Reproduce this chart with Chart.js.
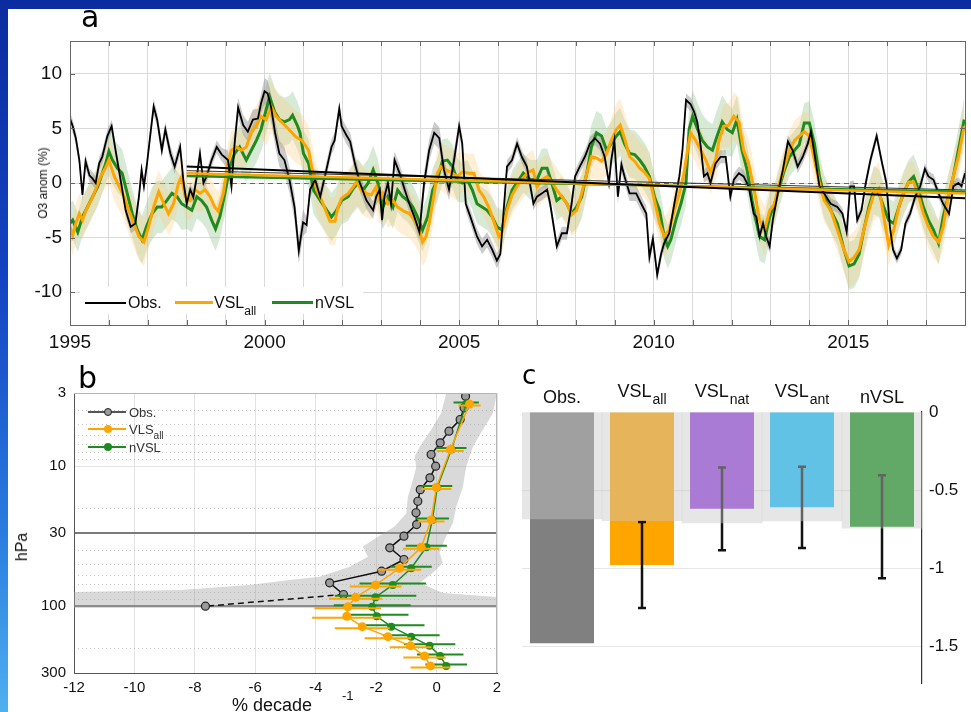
<!DOCTYPE html>
<html>
<head>
<meta charset="utf-8">
<title>Ozone anomalies and trends</title>
<script src="https://cdn.jsdelivr.net/npm/chart.js@4.4.1/dist/chart.umd.min.js"></script>
<style>
  html, body { margin: 0; padding: 0; }
  body { width: 971px; height: 712px; overflow: hidden; position: relative;
         background: linear-gradient(180deg, #0b2c9e 0%, #1444c2 40%, #2a7ddf 75%, #4fb0f0 100%);
         font-family: "Liberation Sans", Arial, sans-serif; color: #111; }
  #sheet { position: absolute; left: 8px; top: 9px; right: 0; bottom: 0; background: #fff; }
  canvas { position: absolute; }
  .txt { position: absolute; white-space: nowrap; line-height: 1; }
  .panel { font-family: "DejaVu Sans", sans-serif; color: #000; }
  .rot { transform: translate(-50%, -50%) rotate(-90deg); }
  .sw { position: absolute; }
  .dot { position: absolute; border-radius: 50%; box-sizing: border-box; }
</style>
</head>
<body>
<div id="sheet"></div>
<canvas id="chartA" width="971" height="358" style="left:0;top:0"></canvas>
<canvas id="chartB" width="520" height="352" style="left:0;top:360px"></canvas>
<canvas id="chartC" width="471" height="352" style="left:500px;top:360px"></canvas>

<div class="txt panel" style="left:81px;top:2px;font-size:30px">a</div>
<div class="txt panel" style="left:78px;top:363px;font-size:30px">b</div>
<div class="txt panel" style="left:522px;top:362px;font-size:26px">c</div>

<div class="txt rot" style="left:43px;top:183px;font-size:12px">O3 anom (%)</div>
<div class="txt rot" style="left:22px;top:547px;font-size:16px">hPa</div>
<div class="txt" style="left:232px;top:696px;font-size:18px">% decade</div>
<div class="txt" style="left:342px;top:689px;font-size:13px">-1</div>

<!-- legend, panel a -->
<div class="sw" style="left:80px;top:287px;width:283px;height:27px;background:#fff"></div>
<div class="sw" style="left:85px;top:302px;width:41px;height:2px;background:#000"></div>
<div class="txt" style="left:128px;top:295px;font-size:16px">Obs.</div>
<div class="sw" style="left:175px;top:301px;width:38px;height:3px;background:#FFA500"></div>
<div class="txt" style="left:214px;top:295px;font-size:16px">VSL<span style="font-size:12px;position:relative;top:7px">all</span></div>
<div class="sw" style="left:272px;top:301px;width:41px;height:3px;background:#1E8B1E"></div>
<div class="txt" style="left:315px;top:295px;font-size:16px">nVSL</div>

<!-- legend, panel b -->
<div class="sw" style="left:88px;top:411px;width:38px;height:1.5px;background:#555"></div>
<div class="dot" style="left:104px;top:408px;width:8px;height:8px;border:1.2px solid #222;background:#9a9a9a"></div>
<div class="txt" style="left:129px;top:406px;font-size:13px;color:#333">Obs.</div>
<div class="sw" style="left:88px;top:428px;width:38px;height:2px;background:#FFA500"></div>
<div class="dot" style="left:104px;top:425px;width:8px;height:8px;background:#FFA500"></div>
<div class="txt" style="left:129px;top:423px;font-size:13px;color:#333">VLS<span style="font-size:10px;position:relative;top:5px">all</span></div>
<div class="sw" style="left:88px;top:446px;width:38px;height:2px;background:#1E8B1E"></div>
<div class="dot" style="left:104px;top:443px;width:8px;height:8px;background:#1E8B1E"></div>
<div class="txt" style="left:129px;top:441px;font-size:13px;color:#333">nVSL</div>

<script>
// ---------- panel a : tropical ozone anomaly time series (%) ----------
const aYearLabels = [1995, 2000, 2005, 2010, 2015];
const aAnomTicks = [-10, -5, 0, 5, 10];

const obsSeries = [
  [1995.00,5.9],[1995.07,5.2],[1995.15,4.1],[1995.24,2.1],[1995.32,-1.1],[1995.40,2.0],[1995.50,0.7],[1995.58,0.4],[1995.66,0.0],[1995.75,1.8],[1995.83,2.4],[1995.96,4.3],
  [1996.07,5.2],[1996.17,3.0],[1996.30,0.3],[1996.43,-2.5],[1996.56,-4.0],[1996.68,-3.7],[1996.77,-1.3],[1996.84,1.2],[1996.90,-0.3],[1996.98,1.8],
  [1997.07,4.6],[1997.15,7.0],[1997.24,5.8],[1997.36,3.0],[1997.45,4.9],[1997.58,2.7],[1997.69,1.5],[1997.83,3.3],[1997.92,0.0],
  [1998.00,-1.9],[1998.09,-0.6],[1998.17,-1.3],[1998.26,0.6],[1998.34,2.7],[1998.43,0.0],[1998.51,0.6],[1998.64,2.1],[1998.77,3.3],[1998.90,2.6],
  [1999.06,2.1],[1999.15,-0.3],[1999.23,3.6],[1999.32,6.9],[1999.45,5.3],[1999.57,4.7],[1999.70,5.8],[1999.83,5.9],[1999.91,7.3],
  [2000.00,8.4],[2000.08,8.2],[2000.17,6.9],[2000.27,4.6],[2000.38,2.7],[2000.51,2.1],[2000.64,0.3],[2000.77,-2.2],[2000.88,-6.2],[2000.99,-3.6],
  [2001.08,-3.85],[2001.17,-0.6],[2001.30,0.3],[2001.43,-1.25],[2001.55,0.6],[2001.72,3.3],[2001.80,3.9],[2001.92,6.8],[2001.98,5.2],
  [2002.10,4.4],[2002.20,3.8],[2002.32,1.8],[2002.45,0.0],[2002.62,-1.6],[2002.79,-2.5],[2002.87,-1.25],[2002.96,-0.6],
  [2003.02,-3.4],[2003.08,-1.25],[2003.17,0.0],[2003.25,-1.9],[2003.34,2.1],[2003.47,0.9],[2003.60,-0.6],[2003.72,-1.9],[2003.85,-3.1],[2003.98,-4.5],
  [2004.10,0.0],[2004.23,3.0],[2004.36,4.6],[2004.49,4.1],[2004.61,1.2],[2004.74,-0.6],[2004.87,2.1],
  [2005.00,5.2],[2005.08,3.6],[2005.17,-1.9],[2005.29,-3.1],[2005.46,-4.9],[2005.59,-5.8],[2005.72,-5.2],[2005.85,-6.1],[2005.97,-7.1],
  [2006.06,-6.5],[2006.23,1.5],[2006.36,2.1],[2006.49,3.6],[2006.61,2.4],[2006.74,1.5],[2006.91,-1.9],
  [2007.00,-1.25],[2007.13,-0.95],[2007.26,-0.6],[2007.34,-1.9],[2007.51,-5.8],[2007.64,-4.6],[2007.77,-4.6],[2007.89,-1.9],[2007.98,0.6],
  [2008.10,1.5],[2008.23,2.4],[2008.36,3.6],[2008.49,4.1],[2008.62,3.6],[2008.74,2.4],[2008.85,0.0],[2008.91,2.1],[2008.99,3.9],
  [2009.08,-1.25],[2009.17,1.7],[2009.25,0.6],[2009.38,-0.95],[2009.55,-0.95],[2009.68,-1.9],[2009.81,-2.8],[2009.89,-6.8],[2009.98,-5.1],
  [2010.09,-8.4],[2010.19,-6.5],[2010.27,-5.5],[2010.40,-4.6],[2010.53,-1.9],[2010.66,0.6],[2010.74,3.0],[2010.83,7.6],[2010.95,7.2],
  [2011.04,6.5],[2011.12,5.6],[2011.21,3.3],[2011.29,0.6],[2011.38,0.9],[2011.46,0.0],[2011.59,1.8],[2011.72,2.4],[2011.85,2.4],[2011.97,-1.25],
  [2012.06,0.3],[2012.19,0.9],[2012.31,0.6],[2012.44,-0.3],[2012.57,-2.8],[2012.64,-3.1],[2012.72,-4.9],[2012.81,-3.7],[2012.89,-4.9],[2012.98,-5.8],
  [2013.06,-3.4],[2013.19,-0.95],[2013.32,1.2],[2013.45,3.8],[2013.57,3.0],[2013.70,1.5],[2013.83,2.4],[2013.96,3.6],
  [2014.04,4.7],[2014.13,2.7],[2014.26,-0.3],[2014.38,-0.95],[2014.55,-1.9],[2014.72,-2.2],[2014.85,-2.8],[2014.96,-4.5],
  [2015.05,-0.3],[2015.15,-0.3],[2015.23,-3.4],[2015.34,-2.5],[2015.45,0.0],[2015.57,2.1],[2015.73,4.3],[2015.87,1.8],[2015.98,0.0],
  [2016.07,-4.0],[2016.15,-6.1],[2016.25,-6.9],[2016.36,-6.1],[2016.47,-3.7],[2016.59,-2.8],[2016.72,-1.25],[2016.85,-0.3],[2016.97,1.3],
  [2017.06,0.6],[2017.19,0.3],[2017.32,-0.95],[2017.44,-1.9],[2017.59,-2.8],[2017.70,-0.3],[2017.83,0.0],[2017.91,-0.3],[2018.00,0.9]
];

const vslAllSeries = [
  [1995.00,-4.0],[1995.07,-4.8],[1995.15,-3.7],[1995.24,-2.8],[1995.32,-3.4],[1995.41,-2.5],[1995.54,-1.6],[1995.66,-0.6],[1995.79,0.6],[1995.90,1.3],
  [1996.00,2.1],[1996.13,0.7],[1996.26,-0.3],[1996.39,-1.25],[1996.51,-2.5],[1996.64,-3.7],[1996.77,-4.9],[1996.90,-5.4],
  [1997.02,-4.0],[1997.15,-2.2],[1997.28,-0.8],[1997.41,-1.9],[1997.53,-2.8],[1997.66,-1.9],[1997.79,0.0],[1997.87,0.6],[1997.96,-1.25],
  [1998.09,-1.6],[1998.21,-0.6],[1998.34,-0.95],[1998.47,-0.6],[1998.60,-1.25],[1998.72,-2.2],[1998.81,-2.6],[1998.94,-0.95],
  [1999.06,1.8],[1999.15,3.0],[1999.28,3.3],[1999.40,3.0],[1999.53,3.3],[1999.66,4.6],[1999.79,5.3],[1999.91,6.1],
  [2000.04,5.8],[2000.17,7.0],[2000.30,6.1],[2000.43,5.6],[2000.55,5.2],[2000.68,4.7],[2000.81,4.2],[2000.96,3.9],
  [2001.13,3.0],[2001.21,1.5],[2001.34,-0.65],[2001.47,-1.6],[2001.60,-2.8],[2001.68,-3.5],[2001.81,-3.5],[2001.89,-2.2],[2001.98,-1.4],
  [2002.15,-0.95],[2002.28,-0.35],[2002.36,0.1],[2002.49,-0.65],[2002.62,-0.95],[2002.74,-1.1],[2002.87,-0.35],[2002.96,-1.6],
  [2003.04,-0.95],[2003.17,-1.9],[2003.30,-1.6],[2003.42,-2.2],[2003.59,-2.6],[2003.72,-2.8],[2003.85,-3.4],[2003.98,-4.3],
  [2004.06,-5.4],[2004.15,-4.9],[2004.23,-3.7],[2004.36,-0.95],[2004.44,0.9],[2004.53,1.5],[2004.66,1.2],[2004.78,1.0],[2004.95,0.6],
  [2005.08,1.0],[2005.25,0.9],[2005.38,0.9],[2005.51,-0.65],[2005.63,-1.25],[2005.76,-2.2],[2005.89,-3.5],
  [2006.02,-4.9],[2006.10,-4.5],[2006.23,-2.5],[2006.36,-1.1],[2006.48,-0.35],[2006.65,0.5],[2006.79,1.0],[2006.90,1.2],
  [2007.00,-0.35],[2007.13,0.3],[2007.26,0.6],[2007.38,0.1],[2007.51,-0.65],[2007.64,-1.25],[2007.77,-1.9],[2007.89,-2.9],
  [2008.02,-2.5],[2008.15,-0.95],[2008.28,0.9],[2008.40,2.4],[2008.53,2.3],[2008.66,2.0],[2008.79,2.7],[2008.91,3.9],
  [2009.04,4.9],[2009.14,5.3],[2009.25,4.1],[2009.38,2.4],[2009.51,2.0],[2009.64,1.35],[2009.76,1.0],[2009.89,0.4],
  [2010.02,-1.6],[2010.15,-3.7],[2010.27,-4.9],[2010.40,-4.3],[2010.53,-2.5],[2010.66,-0.95],[2010.78,0.9],[2010.87,3.0],[2010.95,4.6],
  [2011.08,3.9],[2011.21,3.0],[2011.34,2.1],[2011.46,1.0],[2011.59,2.1],[2011.68,3.9],[2011.80,5.2],[2011.93,5.3],
  [2012.06,6.1],[2012.19,5.6],[2012.31,3.0],[2012.44,1.8],[2012.51,0.6],[2012.60,-0.95],[2012.72,-3.4],[2012.85,-4.3],[2012.98,-2.5],
  [2013.11,-1.9],[2013.23,0.0],[2013.36,1.5],[2013.49,3.0],[2013.62,3.9],[2013.74,4.3],[2013.87,4.7],
  [2014.00,4.3],[2014.13,2.1],[2014.26,0.0],[2014.38,-1.6],[2014.55,-2.5],[2014.72,-4.3],[2014.89,-6.1],
  [2015.02,-7.2],[2015.15,-6.8],[2015.28,-6.1],[2015.40,-4.3],[2015.53,-2.5],[2015.66,-1.0],[2015.79,-0.5],[2015.91,-3.0],
  [2016.04,-5.7],[2016.17,-4.3],[2016.30,-2.2],[2016.42,-0.95],[2016.55,0.1],[2016.68,0.1],[2016.81,-1.25],[2016.93,-2.8],
  [2017.06,-4.0],[2017.19,-4.9],[2017.32,-5.4],[2017.44,-4.0],[2017.57,-1.25],[2017.70,0.6],[2017.83,2.4],[2017.98,5.2]
];

const nvslSeries = [
  [1995.00,-3.7],[1995.07,-3.4],[1995.20,-4.5],[1995.32,-3.1],[1995.45,-2.2],[1995.58,-1.25],[1995.71,-0.35],[1995.83,0.9],[1995.92,1.8],
  [1996.00,2.9],[1996.09,2.1],[1996.22,1.35],[1996.34,0.9],[1996.47,-0.95],[1996.60,-2.8],[1996.73,-4.3],[1996.85,-5.2],[1996.98,-3.85],
  [1997.11,-2.8],[1997.24,-2.2],[1997.36,-2.2],[1997.49,-1.6],[1997.62,-0.95],[1997.75,-1.25],[1997.87,-1.9],
  [1998.00,-2.2],[1998.13,-2.5],[1998.26,-1.25],[1998.38,-1.6],[1998.51,-2.2],[1998.64,-3.4],[1998.74,-4.2],[1998.85,-3.1],[1998.98,-0.95],
  [1999.11,1.5],[1999.23,2.7],[1999.36,3.3],[1999.53,2.1],[1999.66,3.0],[1999.79,3.9],[1999.91,4.9],
  [2000.04,6.7],[2000.13,7.9],[2000.26,6.5],[2000.38,5.8],[2000.51,5.6],[2000.64,5.8],[2000.72,6.2],[2000.85,5.2],[2000.91,4.6],
  [2001.00,2.7],[2001.13,1.8],[2001.26,-0.65],[2001.43,-1.6],[2001.60,-2.5],[2001.72,-3.1],[2001.85,-2.5],[2001.98,-1.6],
  [2002.15,-1.25],[2002.28,-0.5],[2002.40,0.0],[2002.53,-0.65],[2002.66,0.0],[2002.79,1.2],[2002.91,0.0],
  [2003.04,-2.2],[2003.17,-1.25],[2003.30,-2.2],[2003.42,-0.65],[2003.55,-1.25],[2003.68,-1.6],[2003.81,-2.2],[2003.93,-3.1],
  [2004.06,-4.3],[2004.19,-3.1],[2004.32,-0.65],[2004.44,0.3],[2004.57,2.0],[2004.70,2.1],[2004.83,1.5],[2004.95,0.3],
  [2005.08,0.0],[2005.21,0.3],[2005.34,-0.65],[2005.46,-1.9],[2005.59,-2.2],[2005.72,-2.5],[2005.85,-3.1],[2005.97,-4.0],
  [2006.10,-4.3],[2006.23,-2.2],[2006.36,-0.65],[2006.48,0.0],[2006.65,0.9],[2006.83,0.3],
  [2007.00,0.3],[2007.13,1.35],[2007.26,1.35],[2007.38,0.0],[2007.51,-1.6],[2007.64,-1.25],[2007.77,-1.9],[2007.89,-2.8],
  [2008.02,-2.2],[2008.15,-1.25],[2008.28,0.9],[2008.40,3.3],[2008.53,4.6],[2008.66,4.3],[2008.79,3.0],[2008.91,3.6],
  [2009.04,4.3],[2009.14,4.7],[2009.25,3.6],[2009.38,2.7],[2009.51,2.6],[2009.64,2.1],[2009.76,1.5],[2009.89,0.6],
  [2010.02,-1.25],[2010.15,-2.5],[2010.27,-4.9],[2010.36,-5.8],[2010.44,-5.2],[2010.57,-3.4],[2010.70,-1.9],[2010.83,0.0],[2010.91,4.9],
  [2011.00,6.1],[2011.12,5.0],[2011.25,3.9],[2011.38,3.3],[2011.51,3.0],[2011.63,4.3],[2011.76,5.6],[2011.89,4.9],
  [2012.02,4.6],[2012.14,5.8],[2012.27,3.0],[2012.40,1.2],[2012.53,-1.6],[2012.62,-3.3],[2012.72,-4.9],[2012.85,-5.2],[2012.98,-3.1],
  [2013.11,-1.9],[2013.23,-0.35],[2013.36,1.2],[2013.49,2.4],[2013.62,3.0],[2013.74,3.5],[2013.87,5.5],
  [2014.00,5.5],[2014.13,3.6],[2014.26,0.6],[2014.38,-1.25],[2014.55,-2.5],[2014.72,-3.7],[2014.89,-6.1],
  [2015.02,-7.6],[2015.15,-7.4],[2015.28,-6.5],[2015.40,-4.3],[2015.53,-2.2],[2015.66,-0.65],[2015.79,-0.95],[2015.91,-2.2],
  [2016.04,-3.4],[2016.17,-3.7],[2016.30,-2.2],[2016.42,-0.95],[2016.55,0.1],[2016.68,0.6],[2016.81,-0.65],[2016.93,-2.2],
  [2017.06,-3.4],[2017.19,-4.3],[2017.32,-5.5],[2017.44,-3.1],[2017.57,-1.25],[2017.70,0.6],[2017.83,3.0],[2017.98,5.8]
];

// half-width of the shaded ranges, one value per calendar year 1995..2017
const obsSpread  = [0.6,0.6,0.7,0.6,0.9,1.2,0.7,0.8,0.8,1.0,0.7,0.6,0.6,0.6,0.7,0.6,0.6,0.6,0.6,0.5,0.5,0.5,0.5];
const vslSpread  = [1.8,2.2,2.0,1.8,1.8,2.4,2.2,2.2,2.2,2.2,1.8,1.8,2.0,2.0,2.4,1.8,2.0,2.2,1.8,2.0,2.4,1.8,2.0];
const nvslSpread = [1.8,2.2,2.4,2.0,2.0,2.2,2.2,2.2,2.0,2.0,1.8,1.8,1.8,2.0,2.2,2.0,2.4,2.2,1.8,2.0,2.2,2.0,2.0];

// linear trends 1998-2018
const trendYears    = [1998, 2018];
const obsTrendEnds  = [1.5, -1.4];
const obsTrendEnds2 = [1.13, -0.64];
const vslTrendEnds  = [0.9, -0.95];
const nvslTrendEnds = [0.65, -0.8];

// ---------- panel b : vertical trend profiles (% per decade) ----------
const profPressTicks = [3, 10, 30, 100, 300];
const profMinorTicks = [4, 5, 6, 7, 8, 9, 20, 40, 50, 60, 70, 80, 90, 200];
const profXTicks = [-12, -10, -8, -6, -4, -2, 0, 2];

const obsPress = [3.16, 3.83, 4.64, 5.62, 6.81, 8.25, 10, 12.1, 14.7, 17.8, 21.5, 26.1, 31.6, 38.3, 46.4, 56.2, 68.1, 82.5, 100];
const obsTrend = [0.96, 0.91, 0.78, 0.41, 0.12, -0.18, -0.03, -0.22, -0.54, -0.62, -0.68, -0.66, -1.08, -1.55, -1.08, -1.82, -3.54, -3.08, -7.65];

const modelPress  = [3.6, 7.6, 14.2, 24.2, 37.9, 53.6, 70.5, 86.3, 101, 118, 140, 165, 192, 227, 267];
const vslAllTrend = [1.09, 0.46, -0.01, -0.18, -0.51, -1.23, -2.02, -2.68, -2.94, -2.97, -2.46, -1.61, -0.86, -0.40, -0.20];
const vslAllErr   = [0.37, 0.44, 0.50, 0.44, 0.60, 0.72, 0.86, 0.88, 1.10, 1.15, 0.91, 0.77, 0.69, 0.70, 0.66];
const nvslTrend   = [0.98, 0.49, 0.02, -0.14, -0.34, -0.84, -1.45, -2.02, -2.13, -1.98, -1.50, -0.84, -0.23, 0.12, 0.32];
const nvslErr     = [0.42, 0.50, 0.50, 0.55, 0.68, 0.68, 1.10, 1.35, 1.27, 1.05, 1.10, 0.94, 0.85, 0.77, 0.69];

// outline of the observational spread (left edge downward, then right edge upward)
const obsEnvX = [0.32, 0.15, -0.18, -0.56, -0.73, -0.67, -0.78, -0.95, -1.0, -1.39, -2.11, -2.44, -2.27, -2.88, -3.87, -4.87, -6.2, -8.5, -12, -12,
                 2, 2, 0.21, -0.56, -0.13, 0.21, 0.1, 0.26, 0.54, 0.65, 0.87, 0.98, 1.2, 1.53, 1.86, 2.0];
const obsEnvP = [3.0, 4.19, 5.5, 7.26, 8.55, 10.1, 12.5, 16.5, 21.7, 27, 33.6, 37.6, 44.3, 52.2, 61.6, 65, 70.6, 76.6, 79.1, 103,
                 103, 86, 80.5, 68.3, 57.9, 49.1, 41.7, 33.6, 25.5, 19.6, 14.1, 10.1, 7.3, 5.5, 4.2, 3.0];

// ---------- panel c : column trends ----------
const barNames    = [['Obs.', ''], ['VSL', 'all'], ['VSL', 'nat'], ['VSL', 'ant'], ['nVSL', '']];
const barValues   = [-1.48, -0.98, -0.62, -0.61, -0.735];
const barErr      = [null, 0.275, 0.265, 0.26, 0.33];
const shadeValues = [-0.684, -0.695, -0.71, -0.697, -0.744];
const barTicks    = [0, -0.5, -1, -1.5];

const ORANGE = '#FFA500', GREEN = '#1E8B1E';

Chart.defaults.font.family = "'Liberation Sans', Arial, sans-serif";
Chart.defaults.color = '#111';

const base = {
  responsive: false, animation: false, devicePixelRatio: 1, events: [],
  plugins: { legend: { display: false }, tooltip: { enabled: false } }
};

const toPts = s => s.map(([x, y]) => ({ x, y }));
const spreadAt = (arr, t) => arr[Math.max(0, Math.min(arr.length - 1, Math.floor(t - 1995)))];
const bandPts = (s, spread, sign) => s.map(([x, y]) => ({ x, y: y + sign * spreadAt(spread, x) }));
const pair = (xs, ys) => xs.map((x, i) => ({ x, y: ys[i] }));

const lineDs = (data, color, width, order) => ({
  data, borderColor: color, borderWidth: width, pointRadius: 0, tension: 0, fill: false, order
});
const bandDs = (data, color, order, fill) => ({
  data, borderWidth: 0, borderColor: 'rgba(0,0,0,0)', pointRadius: 0, tension: 0, backgroundColor: color, fill, order
});

// frame, inner ticks and dashed zero line for panel a
const frameA = {
  id: 'frameA',
  beforeDatasetsDraw(chart) {
    const { ctx, chartArea: a, scales: { y } } = chart;
    const y0 = Math.round(y.getPixelForValue(0)) + 0.5;
    ctx.save();
    ctx.strokeStyle = '#666'; ctx.lineWidth = 1; ctx.setLineDash([5, 4]);
    ctx.beginPath(); ctx.moveTo(a.left, y0); ctx.lineTo(a.right, y0); ctx.stroke();
    ctx.restore();
  },
  afterDraw(chart) {
    const { ctx, chartArea: a, scales: { x, y } } = chart;
    ctx.save();
    ctx.strokeStyle = '#666'; ctx.lineWidth = 1;
    ctx.strokeRect(a.left + 0.5, a.top + 0.5, a.right - a.left, a.bottom - a.top);
    ctx.beginPath();
    x.ticks.forEach(t => {
      const px = Math.round(x.getPixelForValue(t.value)) + 0.5;
      ctx.moveTo(px, a.top); ctx.lineTo(px, a.top + 5);
      ctx.moveTo(px, a.bottom); ctx.lineTo(px, a.bottom - 5);
    });
    y.ticks.forEach(t => {
      const py = Math.round(y.getPixelForValue(t.value)) + 0.5;
      ctx.moveTo(a.left, py); ctx.lineTo(a.left + 5, py);
      ctx.moveTo(a.right, py); ctx.lineTo(a.right - 5, py);
    });
    ctx.stroke();
    ctx.restore();
  }
};

const yearGrid = [];
for (let yr = 1995; yr <= 2018; yr++) yearGrid.push(yr);

new Chart(document.getElementById('chartA'), {
  type: 'line',
  data: {
    datasets: [
      bandDs(bandPts(nvslSeries, nvslSpread, 1), 'rgba(0,0,0,0)', 9, false),
      bandDs(bandPts(nvslSeries, nvslSpread, -1), 'rgba(120,185,120,0.30)', 9, '-1'),
      bandDs(bandPts(vslAllSeries, vslSpread, 1), 'rgba(0,0,0,0)', 8, false),
      bandDs(bandPts(vslAllSeries, vslSpread, -1), 'rgba(255,205,130,0.32)', 8, '-1'),
      bandDs(bandPts(obsSeries, obsSpread, 1), 'rgba(0,0,0,0)', 7, false),
      bandDs(bandPts(obsSeries, obsSpread, -1), 'rgba(140,140,140,0.45)', 7, '-1'),
      lineDs(toPts(nvslSeries), GREEN, 3, 6),
      lineDs(toPts(vslAllSeries), ORANGE, 3, 5),
      lineDs(toPts(obsSeries), '#000', 1.8, 4),
      lineDs(pair(trendYears, obsTrendEnds2), '#333', 1, 3),
      lineDs(pair(trendYears, nvslTrendEnds), GREEN, 2.5, 2),
      lineDs(pair(trendYears, vslTrendEnds), ORANGE, 2.5, 1),
      lineDs(pair(trendYears, obsTrendEnds), '#000', 2, 0)
    ]
  },
  options: {
    ...base,
    layout: { padding: { top: 41, right: 1, left: 0, bottom: 0 } },
    scales: {
      x: {
        type: 'linear', min: 1995, max: 2018,
        afterBuildTicks: s => { s.ticks = yearGrid.map(v => ({ value: v })); },
        afterFit: s => { s.height = 33; },
        ticks: { autoSkip: false, maxRotation: 0, padding: 6, font: { size: 19 },
                 callback: v => aYearLabels.includes(v) ? String(v) : '' },
        grid: { color: '#dadada', drawTicks: false },
        border: { color: '#666' }
      },
      y: {
        type: 'linear', min: -13, max: 13,
        afterBuildTicks: s => { s.ticks = aAnomTicks.map(v => ({ value: v })); },
        afterFit: s => { s.width = 70; },
        ticks: { padding: 8, font: { size: 19 }, callback: v => String(v) },
        grid: { color: '#dadada', drawTicks: false },
        border: { color: '#666' }
      }
    }
  },
  plugins: [frameA]
});

// ---------- panel b ----------
const errBarsB = {
  id: 'errBarsB',
  beforeDatasetDraw(chart, args) {
    const ds = chart.data.datasets[args.index];
    if (!ds.errors) return;
    const { ctx, scales: { x, y } } = chart;
    ctx.save();
    ctx.strokeStyle = ds.borderColor; ctx.lineWidth = 2;
    ctx.beginPath();
    ds.data.forEach((p, i) => {
      const py = y.getPixelForValue(p.y) + ds.errShift;
      ctx.moveTo(x.getPixelForValue(p.x - ds.errors[i]), py);
      ctx.lineTo(x.getPixelForValue(p.x + ds.errors[i]), py);
    });
    ctx.stroke();
    ctx.restore();
  },
  afterDraw(chart) {
    const { ctx, chartArea: a } = chart;
    ctx.save();
    ctx.strokeStyle = '#b5b5b5'; ctx.lineWidth = 1;
    ctx.beginPath();
    ctx.moveTo(a.left, a.top + 0.5); ctx.lineTo(a.right - 0.5, a.top + 0.5); ctx.lineTo(a.right - 0.5, a.bottom);
    ctx.stroke();
    ctx.restore();
  }
};

const lastObs = obsPress.length - 1;

new Chart(document.getElementById('chartB'), {
  type: 'line',
  data: {
    datasets: [
      { data: pair(obsEnvX, obsEnvP), fill: 'shape', backgroundColor: 'rgba(165,165,165,0.42)',
        borderWidth: 0, borderColor: 'rgba(0,0,0,0)', pointRadius: 0, tension: 0, order: 10 },
      { data: pair(obsTrend, obsPress), borderColor: '#111', borderWidth: 1.5, tension: 0, fill: false,
        pointRadius: 4, pointBackgroundColor: '#9a9a9a', pointBorderColor: '#222', pointBorderWidth: 1.2,
        segment: { borderDash: ctx => ctx.p1DataIndex === lastObs ? [6, 4] : undefined }, order: 3 },
      { data: pair(nvslTrend, modelPress), borderColor: GREEN, borderWidth: 1.5, tension: 0, fill: false,
        pointRadius: 4, pointBackgroundColor: GREEN, pointBorderWidth: 0, errors: nvslErr, errShift: -1.5, order: 2 },
      { data: pair(vslAllTrend, modelPress), borderColor: ORANGE, borderWidth: 1.5, tension: 0, fill: false,
        pointRadius: 4.5, pointBackgroundColor: ORANGE, pointBorderWidth: 0, errors: vslAllErr, errShift: 1.5, order: 1 }
    ]
  },
  options: {
    ...base,
    layout: { padding: { top: 33, right: 23, left: 0, bottom: 0 } },
    scales: {
      x: {
        type: 'linear', min: -12, max: 2,
        afterBuildTicks: s => { s.ticks = profXTicks.map(v => ({ value: v })); },
        afterFit: s => { s.height = 39; },
        ticks: { padding: 6, font: { size: 15 }, callback: v => String(v) },
        grid: { color: '#e2e2e2', drawTicks: false },
        border: { color: '#555' }
      },
      y: {
        type: 'logarithmic', reverse: true, min: 3, max: 300, position: 'left',
        afterBuildTicks: s => { s.ticks = profPressTicks.map(v => ({ value: v })); },
        afterFit: s => { s.width = 74; },
        ticks: { padding: 8, font: { size: 15 }, callback: v => String(v) },
        grid: {
          drawTicks: false,
          color: c => (c.tick && (c.tick.value === 30 || c.tick.value === 100)) ? '#7a7a7a' : '#e2e2e2',
          lineWidth: c => (c.tick && (c.tick.value === 30 || c.tick.value === 100)) ? 2 : 1
        },
        border: { color: '#555' }
      },
      yMinor: {
        type: 'logarithmic', reverse: true, min: 3, max: 300, position: 'left',
        afterBuildTicks: s => { s.ticks = profMinorTicks.map(v => ({ value: v })); },
        afterFit: s => { s.width = 0; },
        ticks: { display: false },
        grid: { drawTicks: false, color: '#c4c4c4', lineWidth: 1 },
        border: { display: false, dash: [1, 3] }
      }
    }
  },
  plugins: [errBarsB]
});

// ---------- panel c ----------
const barDecor = {
  id: 'barDecor',
  afterDatasetDraw(chart, args) {
    if (args.index !== 0) return;
    const { ctx, scales: { x, y } } = chart;
    ctx.save();
    ctx.strokeStyle = '#111'; ctx.lineWidth = 2.5;
    barErr.forEach((e, i) => {
      if (e == null) return;
      const cx = x.getPixelForValue(i);
      const yt = y.getPixelForValue(barValues[i] + e), yb = y.getPixelForValue(barValues[i] - e);
      ctx.beginPath();
      ctx.moveTo(cx, yt); ctx.lineTo(cx, yb);
      ctx.moveTo(cx - 4, yt); ctx.lineTo(cx + 4, yt);
      ctx.moveTo(cx - 4, yb); ctx.lineTo(cx + 4, yb);
      ctx.stroke();
    });
    ctx.restore();
  },
  afterDraw(chart) {
    const { ctx, scales: { x } } = chart;
    ctx.save();
    ctx.fillStyle = '#111'; ctx.textBaseline = 'alphabetic';
    barNames.forEach(([main, sub], i) => {
      const cx = x.getPixelForValue(i);
      ctx.font = "18px 'Liberation Sans', Arial, sans-serif";
      const wm = ctx.measureText(main).width;
      ctx.font = "14px 'Liberation Sans', Arial, sans-serif";
      const ws = sub ? ctx.measureText(sub).width + 1 : 0;
      const x0 = cx - (wm + ws) / 2;
      ctx.font = "18px 'Liberation Sans', Arial, sans-serif";
      ctx.fillText(main, x0, sub ? 37 : 43);
      if (sub) {
        ctx.font = "14px 'Liberation Sans', Arial, sans-serif";
        ctx.fillText(sub, x0 + wm + 1, 44);
      }
    });
    ctx.restore();
  }
};

new Chart(document.getElementById('chartC'), {
  type: 'bar',
  data: {
    labels: barNames.map(n => n.join('')),
    datasets: [
      { data: barValues, grouped: false, barPercentage: 0.8, categoryPercentage: 1, order: 1,
        backgroundColor: ['#808080', ORANGE, 'rgb(144,60,225)', 'rgb(15,189,255)', 'rgb(15,142,22)'] },
      { data: shadeValues, grouped: false, barPercentage: 1, categoryPercentage: 1, order: 0,
        backgroundColor: 'rgba(200,200,200,0.45)' }
    ]
  },
  options: {
    ...base,
    layout: { padding: { top: 52, right: 0, left: 22, bottom: 29 } },
    scales: {
      x: { type: 'category', display: false },
      y: {
        type: 'linear', position: 'right', min: -1.735, max: 0,
        afterBuildTicks: s => { s.ticks = barTicks.map(v => ({ value: v })); },
        afterFit: s => { s.width = 49; },
        ticks: { padding: 7, font: { size: 17 }, callback: v => String(v) },
        grid: { drawTicks: false, color: c => (c.tick && c.tick.value === 0) ? 'rgba(0,0,0,0)' : '#e6e6e6' },
        border: { color: '#333', width: 1.2 }
      }
    }
  },
  plugins: [barDecor]
});
</script>
</body>
</html>
